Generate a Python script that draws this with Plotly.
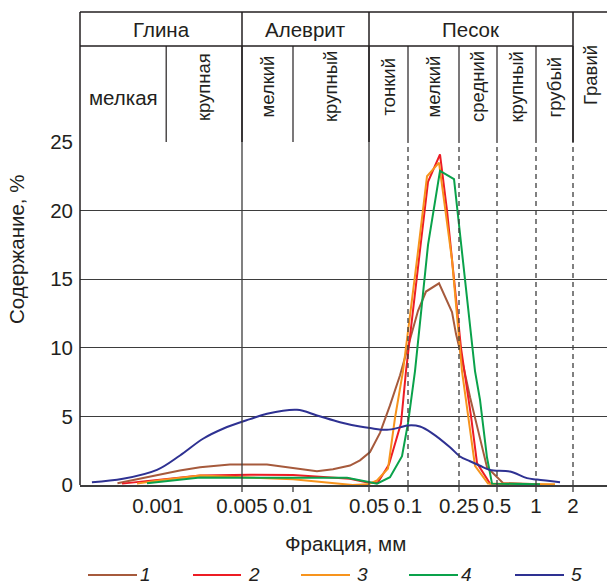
import numpy as np
import plotly.graph_objects as go

# ---------------- data ----------------
TICK_MM = [0.001, 0.005, 0.01, 0.05, 0.1, 0.25, 0.5, 1, 2]
TICK_TEXT = ["0.001", "0.005", "0.01", "0.05", "0.1", "0.25", "0.5", "1", "2"]
Y_TICKS = [0, 5, 10, 15, 20, 25]

S1_MM = [0.00046, 0.00104, 0.00152, 0.00224, 0.00397, 0.00702, 0.0096, 0.0166, 0.0233,
         0.0334, 0.0413, 0.0509, 0.0608, 0.0726, 0.0868, 0.1036, 0.1197, 0.1382, 0.1746,
         0.2205, 0.237, 0.2546, 0.3058, 0.3537, 0.4166, 0.556, 1.078]
S1_Y = [0.13, 0.8, 1.06, 1.3, 1.5, 1.5, 1.25, 1.0, 1.15,
        1.42, 1.8, 2.4, 3.8, 5.8, 8.0, 10.6, 12.7, 14.1, 14.7,
        12.6, 11.0, 9.8, 6.4, 4.0, 1.3, 0.15, 0.05]

S2_MM = [0.000502, 0.00104, 0.00224, 0.00558, 0.01, 0.0334, 0.0509, 0.0587, 0.0713, 0.0883,
         0.0965, 0.124, 0.1433, 0.1777, 0.2016, 0.2286, 0.2592, 0.3114, 0.3473, 0.44, 1.078]
S2_Y = [0.1, 0.4, 0.7, 0.75, 0.72, 0.45, 0.15, 0.2, 1.5, 4.5,
        8.3, 17.1, 22.1, 24.1, 20.0, 15.0, 10.0, 5.0, 1.6, 0.1, 0.05]

S3_MM = [0.000669, 0.00104, 0.00224, 0.00558, 0.01, 0.0354, 0.049, 0.0576, 0.0701, 0.0794,
         0.0915, 0.1175, 0.1407, 0.1746, 0.2205, 0.264, 0.3348, 0.4243, 1.428]
S3_Y = [0.1, 0.35, 0.69, 0.55, 0.42, 0.0, 0.05, 0.33, 1.2, 4.9,
        8.3, 16.4, 22.5, 23.5, 16.4, 8.3, 1.4, 0.1, 0.05]

S4_MM = [0.00081, 0.00224, 0.00558, 0.0314, 0.0509, 0.0576, 0.0726, 0.0899, 0.1, 0.1134,
         0.1433, 0.1777, 0.2286, 0.264, 0.3348, 0.3668, 0.4166, 0.4566, 1.078]
S4_Y = [0.13, 0.55, 0.52, 0.52, 0.2, 0.1, 0.57, 2.1, 4.5, 8.3,
        17.5, 22.9, 22.3, 17.1, 8.3, 6.2, 2.0, 0.1, 0.05]

S5_MM = [0.000282, 0.000511, 0.000981, 0.001524, 0.002368, 0.003474, 0.005576, 0.007022,
         0.01088, 0.01662, 0.02705, 0.0413, 0.0509, 0.0688, 0.0868, 0.1, 0.124, 0.1567,
         0.2127, 0.2546, 0.3058, 0.3668, 0.44, 0.63, 0.852, 1.019, 1.568]
S5_Y = [0.2, 0.45, 1.1, 2.15, 3.37, 4.1, 4.8, 5.19,
        5.48, 5.07, 4.58, 4.26, 4.15, 4.02, 4.2, 4.34, 4.26, 3.73,
        2.75, 2.08, 1.73, 1.4, 1.1, 0.98, 0.5, 0.4, 0.2]

SERIES_NAMES = ["1", "2", "3", "4", "5"]

# header classification
GROUPS = ["Глина", "Алеврит", "Песок"]
GROUP_BOUNDS_MM = [0.005, 0.05, 2]
SUBCLASSES = ["мелкая", "крупная", "мелкий", "крупный", "тонкий", "мелкий", "средний", "крупный", "грубый"]
SUB_BOUNDS_MM = [0.00117, 0.005, 0.01, 0.05, 0.1, 0.25, 0.5, 1, 2]
GRAVEL = "Гравий"
SOLID_MM = [0.005, 0.05]
DASHED_MM = [0.1, 0.25, 0.5, 1, 2]
TICKMARK_MM = [0.005, 0.01, 0.05, 0.1, 0.25, 0.5, 1, 2]

# ---------------- layout / scale ----------------
W, H = 607, 584
L, R, T, B = 80, 0, 142, 99
PW, PH = W - L - R, H - T - B
X0, X1 = 80.0, 607.0               # axis units (hand-drawn, non-uniform log grid)
AX_POS = [158, 242, 293, 369, 408, 459, 497, 536, 573]
LOG_T = np.log10(TICK_MM)


def to_axis(mm):
    l = np.log10(np.atleast_1d(np.asarray(mm, float)))
    p = np.interp(l, LOG_T, AX_POS)
    s0 = (AX_POS[1] - AX_POS[0]) / (LOG_T[1] - LOG_T[0])
    s1 = (AX_POS[-1] - AX_POS[-2]) / (LOG_T[-1] - LOG_T[-2])
    lo, hi = l < LOG_T[0], l > LOG_T[-1]
    p[lo] = AX_POS[0] + (l[lo] - LOG_T[0]) * s0
    p[hi] = AX_POS[-1] + (l[hi] - LOG_T[-1]) * s1
    return p


def xp(px):   # pixel -> paper x
    return (px - L) / PW


def yp(py):   # pixel -> paper y
    return (H - B - py) / PH


def mmp(mm):  # mm -> paper x
    return float((to_axis(mm)[0] - X0) / (X1 - X0))


FONT = "Liberation Sans, Arial, Helvetica, sans-serif"
INK = "#231f20"
GRID = "#3d3d3d"
COLORS = ["#a65a3c", "#ed1c24", "#f7941d", "#0aa24b", "#2e3192"]
FS = 20.5      # main text size
FSV = 18.5     # rotated header labels

fig = go.Figure()
data = [(S1_MM, S1_Y), (S2_MM, S2_Y), (S3_MM, S3_Y), (S4_MM, S4_Y), (S5_MM, S5_Y)]
for i, (mx, my) in enumerate(data):
    fig.add_trace(go.Scatter(
        x=to_axis(mx), y=my, mode="lines", name=SERIES_NAMES[i],
        line=dict(color=COLORS[i], width=2, shape="spline" if i == 4 else "linear"),
        showlegend=False, hoverinfo="skip"))

shapes = []
# vertical lines inside the plot
for mm in SOLID_MM + DASHED_MM:
    solid = mm in SOLID_MM
    shapes.append(dict(type="line", xref="paper", yref="paper", x0=mmp(mm), x1=mmp(mm),
                       y0=0, y1=1, line=dict(color=GRID, width=1.3,
                                             dash="solid" if solid else "5px,4px")))
for mm in TICKMARK_MM:
    shapes.append(dict(type="line", xref="paper", yref="paper", x0=mmp(mm), x1=mmp(mm),
                       y0=0, y1=-7 / PH, line=dict(color=GRID, width=1.3)))
# left border (plot + header)
shapes.append(dict(type="line", xref="paper", yref="paper", x0=0, x1=0, y0=0, y1=yp(12),
                   line=dict(color=INK, width=1.5)))
# header horizontal lines
shapes.append(dict(type="line", xref="paper", yref="paper", x0=0, x1=1, y0=yp(12), y1=yp(12),
                   line=dict(color=INK, width=1.5)))
shapes.append(dict(type="line", xref="paper", yref="paper", x0=0, x1=mmp(2), y0=yp(46), y1=yp(46),
                   line=dict(color=INK, width=1.5)))
# header group bounds (full height)
for mm in GROUP_BOUNDS_MM:
    shapes.append(dict(type="line", xref="paper", yref="paper", x0=mmp(mm), x1=mmp(mm),
                       y0=1, y1=yp(12), line=dict(color=INK, width=1.5)))
# header sub bounds (second row)
for mm in SUB_BOUNDS_MM:
    shapes.append(dict(type="line", xref="paper", yref="paper", x0=mmp(mm), x1=mmp(mm),
                       y0=1, y1=yp(46), line=dict(color=INK, width=1.2)))

ann = []
edges = [X0] + list(to_axis(GROUP_BOUNDS_MM))
for i, g in enumerate(GROUPS):
    cx = (edges[i] + edges[i + 1]) / 2
    ann.append(dict(text=g, x=xp(cx), y=yp(29), xref="paper", yref="paper",
                    showarrow=False, xanchor="center", yanchor="middle",
                    font=dict(size=FS, color=INK, family=FONT)))
sub_edges = [X0] + list(to_axis(SUB_BOUNDS_MM))
for i, s in enumerate(SUBCLASSES):
    cx = (sub_edges[i] + sub_edges[i + 1]) / 2
    if i == 0:
        ann.append(dict(text=s, x=xp(cx), y=yp(97), xref="paper", yref="paper",
                        showarrow=False, xanchor="center", yanchor="middle",
                        font=dict(size=FS, color=INK, family=FONT)))
    else:
        ann.append(dict(text=s, x=xp(cx), y=yp(87), xref="paper", yref="paper",
                        showarrow=False, xanchor="center", yanchor="middle", textangle=-90,
                        font=dict(size=FSV, color=INK, family=FONT)))
gx = (to_axis(2)[0] + X1) / 2
ann.append(dict(text=GRAVEL, x=xp(gx), y=yp(75), xref="paper", yref="paper",
                showarrow=False, xanchor="center", yanchor="middle", textangle=-90,
                font=dict(size=FSV, color=INK, family=FONT)))
# axis titles
ann.append(dict(text="Содержание, %", x=xp(16), y=yp(250), xref="paper", yref="paper",
                showarrow=False, xanchor="center", yanchor="middle", textangle=-90,
                font=dict(size=FS, color=INK, family=FONT)))
ann.append(dict(text="Фракция, мм", x=xp(345), y=yp(543), xref="paper", yref="paper",
                showarrow=False, xanchor="center", yanchor="middle",
                font=dict(size=FS, color=INK, family=FONT)))
# legend
LEG_X = [(88, 137, 145), (193, 241, 254), (301, 350, 362), (409, 458, 466), (515, 564, 576)]
for i, (a, b, t) in enumerate(LEG_X):
    shapes.append(dict(type="line", xref="paper", yref="paper", x0=xp(a), x1=xp(b),
                       y0=yp(575), y1=yp(575), line=dict(color=COLORS[i], width=2)))
    ann.append(dict(text="<i>%s</i>" % SERIES_NAMES[i], x=xp(t), y=yp(574), xref="paper",
                    yref="paper", showarrow=False, xanchor="center", yanchor="middle",
                    borderpad=0, font=dict(size=19, color=INK, family=FONT)))

fig.update_layout(
    width=W, height=H, margin=dict(l=L, r=R, t=T, b=B, pad=0),
    paper_bgcolor="white", plot_bgcolor="white",
    font=dict(family=FONT, size=FS, color=INK),
    shapes=shapes, annotations=ann, showlegend=False,
    xaxis=dict(range=[X0, X1], tickvals=list(to_axis(TICK_MM)), ticktext=TICK_TEXT,
               showgrid=False, zeroline=False, showline=True, linecolor=GRID, linewidth=1.5,
               ticks="", ticklabelstandoff=2, tickfont=dict(size=FS, color=INK, family=FONT),
               fixedrange=True),
    yaxis=dict(range=[0, 25], tickvals=Y_TICKS, showgrid=True, gridcolor=GRID, gridwidth=1.4,
               zeroline=False, showline=False, ticks="", ticklabelstandoff=6,
               tickfont=dict(size=FS, color=INK, family=FONT), fixedrange=True),
)

fig.write_html("out.html", config={"displayModeBar": False},
               post_script="document.body.style.margin='0px';"
                           "document.documentElement.style.overflow='hidden';")
